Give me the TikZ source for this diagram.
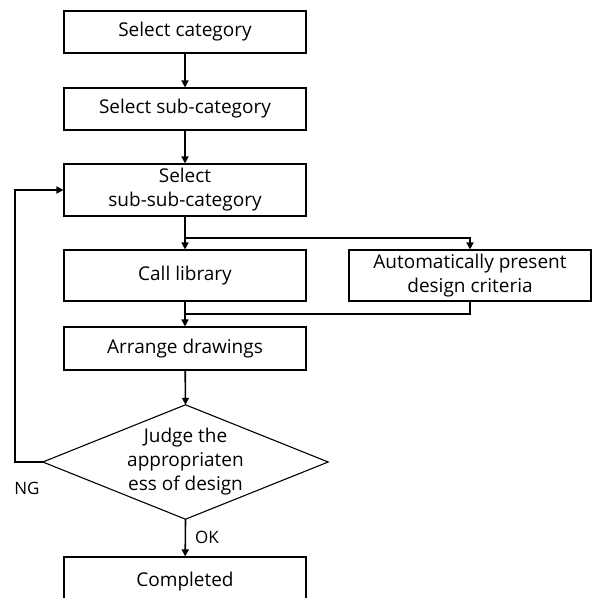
\documentclass[tikz,border=0pt]{standalone}
\usepackage{fontspec}
\setmainfont{Open Sans}
\usetikzlibrary{arrows.meta}

\tikzset{
    stepbox/.style={draw, line width=1.1pt, minimum width=242pt, inner sep=0pt, align=center,
        font=\fontsize{19}{24}\selectfont},
    flow/.style={line width=1.6pt, -{Triangle[length=7pt,width=7pt]}},
    link/.style={line width=1.6pt},
    lbl/.style={font=\fontsize{17}{18}\selectfont, inner sep=0pt}
}

\begin{document}
\begin{tikzpicture}[x=1pt,y=-1pt]
            \useasboundingbox (0,0) rectangle (593,598);
            \clip (0,0) rectangle (593,598);

            \node[stepbox, minimum height=42pt] (cat) at (185,32) {Select category};
            \node[stepbox, minimum height=42pt] (subcat) at (185,109) {Select sub-category};
            \node[stepbox, minimum height=52pt] (subsub) at (185,190) {Select\\sub-sub-category};
            \node[stepbox, minimum height=51pt] (lib) at (185,275.5) {Call library};
            \node[stepbox, minimum height=51pt] (auto) at (470,275.5) {Automatically present\\design criteria};
            \node[stepbox, minimum height=43pt] (arrange) at (185,348.5) {Arrange drawings};
            \node[stepbox, minimum height=50pt] (done) at (185,582) {Completed};

            % decision
            \node[minimum width=285pt, minimum height=114pt, inner sep=0pt, align=center,
                font=\fontsize{19}{24}\selectfont] (judge) at (185.5,462) {Judge the\\appropriaten\\ess of design};
            \draw[line width=1.1pt] (judge.north) -- (judge.east) -- (judge.south) -- (judge.west) -- cycle;

            \coordinate (split) at (185,238);
            \coordinate (merge) at (185,314);
            \coordinate (back) at (15,462);

            \draw[flow] (cat) -- (subcat);
            \draw[flow] (subcat) -- (subsub);
            \draw[flow] (subsub) -- (lib);
            \draw[flow] (split) -| (auto.north);
            \draw[flow] (lib) -- (arrange);
            \draw[link] (auto.south) |- (merge);
            \draw[flow] (arrange) -- (judge.north);
            \draw[flow] (judge.south) -- (done);
            \draw[flow] (judge.west) -- (back) |- (subsub.west);

            \node[lbl] (ng) at (27,488) {NG};
            \node[lbl] (ok) at (207,537) {OK};
\end{tikzpicture}
\end{document}
